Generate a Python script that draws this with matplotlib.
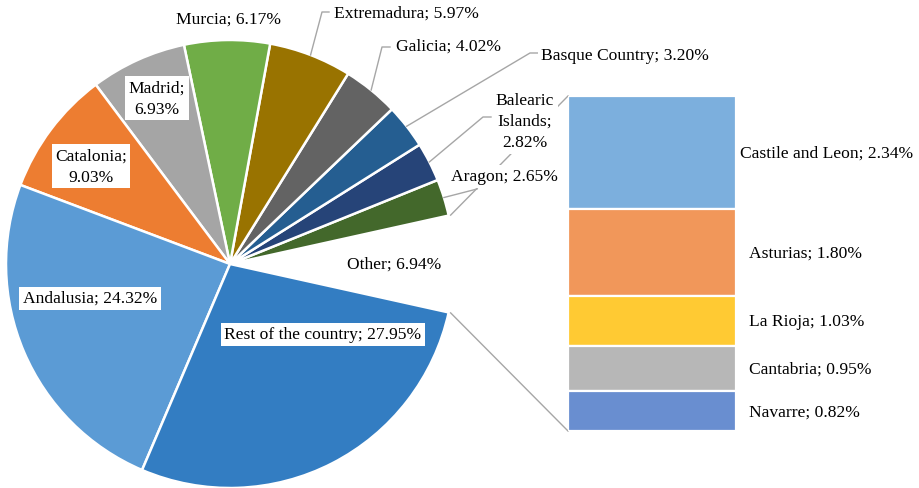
import numpy as np
import matplotlib
matplotlib.use('Agg')
import matplotlib.pyplot as plt

# ─── Data ──────────────────────────────────────────────
# pie slices, counter-clockwise starting from the "Other" wedge
pie_names = ['Other', 'Aragon', 'Balearic Islands', 'Basque Country', 'Galicia',
             'Extremadura', 'Murcia', 'Madrid', 'Catalonia', 'Andalusia',
             'Rest of the country']
pie_vals = [6.94, 2.65, 2.82, 3.20, 4.02, 5.97, 6.17, 6.93, 9.03, 24.32, 27.95]
pie_colors = ['white', '#43682B', '#264478', '#255E91', '#636363', '#997300',
              '#70AD47', '#A5A5A5', '#ED7D31', '#5B9BD5', '#337DC2']

# breakdown of "Other", top to bottom
bar_names = ['Castile and Leon', 'Asturias', 'La Rioja', 'Cantabria', 'Navarre']
bar_vals = [2.34, 1.80, 1.03, 0.95, 0.82]
bar_colors = ['#7CAFDD', '#F1975A', '#FFCA33', '#B7B7B7', '#698ED0']

wrapped = {'Madrid', 'Catalonia', 'Balearic Islands'}

# ─── Layout (pixels, y from top) ───────────────────────
W, H = 919, 489
PIE_C = (230, 265)
PIE_R = 224
BAR_RECT = (568, 97, 736, 432)   # left, top, right, bottom

label_pos = {
    'Other': (394, 265), 'Aragon': (504, 177), 'Balearic Islands': (525, 122),
    'Basque Country': (625, 56), 'Galicia': (449, 47), 'Extremadura': (406, 14),
    'Murcia': (228, 20), 'Madrid': (157, 99), 'Catalonia': (91, 167),
    'Andalusia': (90, 299), 'Rest of the country': (323, 335),
}
elbows = {
    'Extremadura': [(322, 13), (329, 13)],
    'Galicia': [(382, 48), (390, 48)],
    'Basque Country': [(530, 54), (538, 54)],
    'Balearic Islands': [(483, 118), (491, 118)],
    'Aragon': [(477, 190)],
}

plt.rcParams['font.family'] = ['Liberation Serif', 'DejaVu Serif']
FS = 12.6
LINE = '#A6A6A6'
box = dict(boxstyle='square,pad=0.2', fc='white', ec='none')

fig = plt.figure(figsize=(W / 100, H / 100), dpi=100)
ax = fig.add_axes([0, 0, 1, 1])
ax.axis('off')


def Y(y):
    return H - y


start = -pie_vals[0] / 100 * 360 / 2
wedges, _ = ax.pie(pie_vals, colors=pie_colors, startangle=start, counterclock=True,
                   center=(PIE_C[0], Y(PIE_C[1])), radius=PIE_R,
                   wedgeprops=dict(edgecolor='white', linewidth=1.8))
ax.set_xlim(0, W)
ax.set_ylim(0, H)
ax.set_aspect('auto')


def edge_point(angle_deg, r=PIE_R):
    a = np.radians(angle_deg)
    return PIE_C[0] + r * np.cos(a), Y(PIE_C[1]) + r * np.sin(a)


# labels
for w, name, v in zip(wedges, pie_names, pie_vals):
    if name in wrapped:
        txt = name.replace(' ', '\n') + ';\n' + f'{v:.2f}%'
    else:
        txt = f'{name}; {v:.2f}%'
    x, y = label_pos[name]
    ax.text(x, Y(y), txt, ha='center', va='center', fontsize=FS, linespacing=1.42,
            bbox=box, zorder=5)
    if name in elbows:
        mid = (w.theta1 + w.theta2) / 2
        pts = [edge_point(mid)] + [(px, Y(py)) for px, py in elbows[name]]
        xs, ys = zip(*pts)
        ax.plot(xs, ys, color=LINE, lw=1.0, zorder=3)

# connectors from "Other" wedge to the bar
other = wedges[0]
bl, bt, br, bb = BAR_RECT
p_top = edge_point(other.theta2, PIE_R + 2)
p_bot = edge_point(other.theta1, PIE_R + 2)
ax.plot([p_top[0], bl], [p_top[1], Y(bt)], color=LINE, lw=1.0, zorder=2)
ax.plot([p_bot[0], bl], [p_bot[1], Y(bb)], color=LINE, lw=1.0, zorder=2)

# stacked bar of "Other"
bax = fig.add_axes([bl / W, Y(bb) / H, (br - bl) / W, (bb - bt) / H])
total = sum(bar_vals)
bax.set_xlim(0, 1)
bax.set_ylim(0, total)
bax.axis('off')
bottom = total
for name, v, c in zip(bar_names, bar_vals, bar_colors):
    bottom -= v
    bax.bar(0.5, v, width=1, bottom=bottom, color=c, edgecolor='white', linewidth=1.6)
    lx = 1.025 if name == 'Castile and Leon' else 1.08
    bax.text(lx, bottom + v / 2, f'{name}; {v:.2f}%', ha='left', va='center',
             fontsize=FS, bbox=box, clip_on=False, zorder=5)

fig.savefig('out.png', dpi=100)
